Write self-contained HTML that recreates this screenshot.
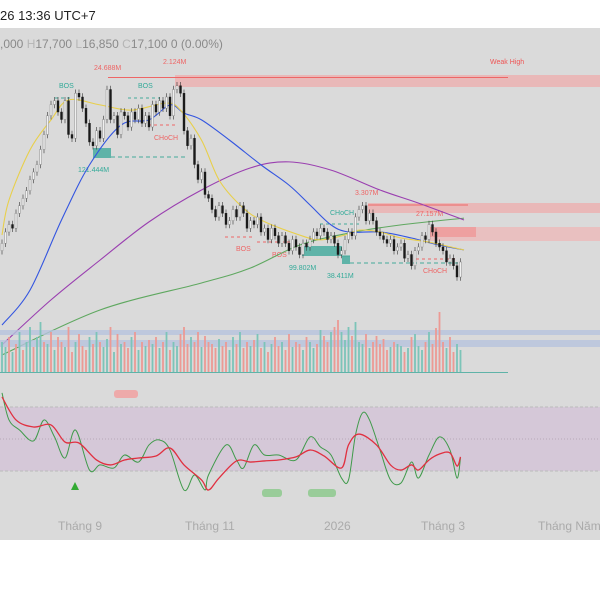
<!DOCTYPE html>
<html><head><meta charset="utf-8"><style>
html,body{margin:0;padding:0;background:#fff;width:600px;height:600px;overflow:hidden;font-family:"Liberation Sans",sans-serif}
svg{display:block}
</style></head><body>
<svg id="c" width="600" height="600">
<rect x="0" y="0" width="600" height="28" fill="#fff"/>
<text x="0" y="20" font-size="13" fill="#222">26 13:36 UTC+7</text>
<rect x="0" y="28" width="600" height="512" fill="#dadada"/>
<text x="0" y="48" font-size="12" fill="#8a8a8a">,000 <tspan fill="#b5b5b5">H</tspan>17,700 <tspan fill="#b5b5b5">L</tspan>16,850 <tspan fill="#b5b5b5">C</tspan>17,100 0 (0.00%)</text>
<g id="zones">
<rect x="175" y="75" width="425" height="12" fill="#e9b8b8"/>
<line x1="108" y1="77.5" x2="508" y2="77.5" stroke="#e66" stroke-width="1"/>
<text x="490" y="64" font-size="7" fill="#e55">Weak High</text>
<rect x="368" y="203" width="232" height="10" fill="#e9b8b8"/>
<rect x="430" y="227" width="170" height="14" fill="#e9c0c0"/>
<rect x="430" y="227" width="46" height="10" fill="#eea0a0"/>
<line x1="368" y1="205" x2="468" y2="205" stroke="#e66"/>
<rect x="93" y="148" width="18" height="10" fill="#5fb3a8"/>
<rect x="302" y="246" width="40" height="10" fill="#5fb3a8"/>
<rect x="342" y="256" width="8" height="8" fill="#5fb3a8"/>
<line x1="111" y1="157" x2="188" y2="157" stroke="#4a9" stroke-dasharray="4,3"/>
<line x1="350" y1="263" x2="458" y2="263" stroke="#4a9" stroke-dasharray="4,3"/>
<line x1="342" y1="256" x2="350" y2="256" stroke="#4a9"/>
<line x1="55" y1="98" x2="72" y2="98" stroke="#4a9" stroke-dasharray="3,3"/>
<line x1="128" y1="98" x2="160" y2="98" stroke="#4a9" stroke-dasharray="3,3"/>
<line x1="148" y1="125" x2="178" y2="125" stroke="#e66" stroke-dasharray="3,3"/>
<line x1="225" y1="237" x2="255" y2="237" stroke="#e66" stroke-dasharray="3,3"/>
<line x1="257" y1="242" x2="290" y2="242" stroke="#e66" stroke-dasharray="3,3"/>
<line x1="320" y1="224" x2="360" y2="224" stroke="#4a9" stroke-dasharray="3,3"/>
<line x1="416" y1="259" x2="455" y2="259" stroke="#e66" stroke-dasharray="3,3"/>
</g>
<g font-size="7">
<text x="94" y="70" fill="#e66">24.688M</text>
<text x="163" y="64" fill="#e66">2.124M</text>
<text x="59" y="88" fill="#3a9">BOS</text>
<text x="138" y="88" fill="#3a9">BOS</text>
<text x="154" y="140" fill="#e66">CHoCH</text>
<text x="78" y="172" fill="#3a9">121.444M</text>
<text x="355" y="195" fill="#e66">3.307M</text>
<text x="330" y="215" fill="#3a9">CHoCH</text>
<text x="416" y="216" fill="#e66">27.157M</text>
<text x="236" y="251" fill="#e66">BOS</text>
<text x="272" y="257" fill="#e66">BOS</text>
<text x="289" y="270" fill="#3a9">99.802M</text>
<text x="327" y="278" fill="#3a9">38.411M</text>
<text x="423" y="273" fill="#e66">CHoCH</text>
</g>
<g id="mas"></g>
<g id="candles"></g>
<rect x="0" y="330" width="600" height="5" fill="#b7c3dd" opacity="0.8"/>
<rect x="0" y="340" width="600" height="7" fill="#b7c3dd" opacity="0.8"/>
<g id="vol"></g>
<line x1="0" y1="372.5" x2="508" y2="372.5" stroke="#5fb3a8"/>
<g>
<rect x="0" y="407" width="600" height="64" fill="#d5c8d8"/>
<line x1="0" y1="407" x2="600" y2="407" stroke="#bbb" stroke-dasharray="3,2"/>
<line x1="0" y1="471" x2="600" y2="471" stroke="#bbb" stroke-dasharray="3,2"/>
<line x1="0" y1="439" x2="600" y2="439" stroke="#b8a8b8" stroke-dasharray="1,2"/>
<rect x="114" y="390" width="24" height="8" rx="3" fill="#eaa"/>
<rect x="262" y="489" width="20" height="8" rx="3" fill="#9c9"/>
<rect x="308" y="489" width="28" height="8" rx="3" fill="#9c9"/>
<polygon points="75,482 71,490 79,490" fill="#3a3"/>
</g>
<g id="osc"></g>
<g font-size="12" fill="#aaa">
<text x="58" y="530">Tháng 9</text>
<text x="185" y="530">Tháng 11</text>
<text x="324" y="530">2026</text>
<text x="421" y="530">Tháng 3</text>
<text x="538" y="530">Tháng Năm</text>
</g>
</svg>
<script>
const closes=[17.6,17.9,18.1,18.0,18.4,18.6,18.8,19.0,19.3,19.5,19.7,20.1,20.5,21.0,21.3,21.4,21.1,20.9,21.4,20.5,20.4,21.6,21.5,21.2,20.8,20.3,20.2,20.6,20.4,20.9,21.7,20.9,21.0,20.5,21.1,21.0,20.7,21.1,20.9,21.2,20.8,21.0,20.7,21.3,21.1,21.4,21.2,21.5,21.0,21.7,21.8,21.6,20.6,20.2,20.4,19.7,19.3,19.5,18.9,18.8,18.5,18.3,18.6,18.4,18.1,18.2,18.5,18.3,18.6,18.4,18.0,18.2,18.1,18.3,17.9,18.0,17.7,18.0,17.8,17.6,17.8,17.6,17.4,17.7,17.5,17.3,17.6,17.5,17.7,17.9,17.8,18.0,17.9,17.7,17.8,17.6,17.3,17.4,17.7,17.9,17.8,18.3,18.5,18.6,18.2,18.4,18.2,17.9,17.8,17.7,17.6,17.7,17.4,17.5,17.6,17.2,17.3,17.0,17.4,17.5,17.8,17.7,18.1,17.9,17.6,17.5,17.4,17.1,17.2,17.0,16.7,17.1];
const volumes=[30,25,35,20,28,40,22,30,45,25,35,50,30,28,40,22,35,30,25,45,20,30,38,26,22,35,28,40,30,25,33,45,20,38,28,30,24,35,40,22,30,26,32,28,35,24,30,40,22,30,26,38,45,28,35,30,40,25,36,30,28,24,33,26,30,22,35,28,40,24,30,26,32,38,24,30,20,28,35,26,30,22,38,25,30,28,22,35,30,24,28,42,36,30,40,45,52,40,32,45,36,50,30,28,38,24,30,36,28,33,22,25,30,28,26,20,24,35,38,26,22,30,40,28,44,60,30,24,35,20,28,22];
const volUp=[1,1,0,1,0,1,0,1,1,0,1,1,0,1,0,1,0,0,1,0,0,1,0,0,0,1,0,1,0,1,1,0,1,0,1,0,0,1,0,1,0,1,0,1,0,1,0,1,0,1,1,0,0,0,1,0,0,1,0,0,0,0,1,0,0,1,1,0,1,0,0,1,0,1,0,1,0,1,0,0,1,0,0,1,0,0,1,0,1,1,0,1,0,0,1,0,0,1,1,1,0,1,1,1,0,1,0,0,0,0,0,1,0,1,1,0,1,0,1,1,1,0,1,0,0,0,0,1,0,0,1,1];
const oscGreenIdx=[0,2,5,9,12,15,18,21,25,28,32,35,39,42,45,48,52,55,58,59,64,67,69,72,75,79,84,88,91,94,97,99,101,103,105,108,111,114,117,119,122,125,128,130,131];
const oscGreen=[78.8,61.9,55.6,48.8,61.9,51.3,38.1,55.6,30.6,33.8,31.9,40,35.6,46.3,49.4,43.1,18.1,27.5,18.1,27.5,46.3,36.9,31.9,46.3,40,40,36.9,51.3,45,40,25.6,24.4,52.5,66.3,61.9,43.1,24.4,22.5,35.6,25.6,40,51.3,43.1,25.6,38.1];
const oscRedIdx=[0,4,9,14,18,22,27,31,35,39,44,48,52,57,59,62,67,71,75,79,84,88,92,97,99,102,107,111,114,117,119,122,125,128,130,131];
const oscRed=[76.3,61.9,57.5,58.8,48.1,47.5,36.9,33.8,36.9,38.1,39.4,44.4,33.8,24.4,18.1,25.6,36.3,35.6,36.3,36.9,38.8,43.1,39.4,31.9,46.3,53.1,46.3,33.8,30.6,33.8,30.6,36.9,40.6,41.3,33.1,38.8];
const maYellowIdx=[0,2,8,14,19,28,37,47,51,57,62,68,74,85,91,98,102,108,114,122,132];
const maYellow=[17.82,18.75,20.09,20.89,21.42,21.29,21.15,21.34,21.15,20.35,19.29,18.62,18.22,17.82,17.69,17.82,17.95,17.9,17.74,17.63,17.42];
const maBlueIdx=[0,8,17,25,34,42,48,52,57,65,74,82,88,94,99,108,117,125,132];
const maBlue=[15.42,16.35,18.22,19.69,20.75,20.89,21.29,21.07,20.89,20.35,19.69,19.15,18.62,18.09,17.9,17.9,17.74,17.55,17.42];
const maPurpleIdx=[0,14,28,42,57,71,82,94,108,119,132];
const maPurple=[14.89,16.09,17.15,18.17,19.02,19.61,19.77,19.55,19.02,18.67,18.22];
const maGreenIdx=[0,28,57,71,85,99,114,132];
const maGreen=[14.62,15.82,16.54,16.94,17.55,17.87,18.09,18.27];

const NS='http://www.w3.org/2000/svg';
const xs=i=>2+i*3.5;
const yp=p=>262-(p-17.1)*37.5;
const yo=v=>439-(v-50)*1.6;
const yv=v=>372-v;
function mk(tag,attrs,parent){const e=document.createElementNS(NS,tag);for(const k in attrs)e.setAttribute(k,attrs[k]);parent.appendChild(e);return e;}

const cg=document.getElementById('candles');
closes.forEach((c,i)=>{
  const o=i?closes[i-1]:c-0.2;
  const hi=Math.max(o,c)+0.1, lo=Math.min(o,c)-0.1;
  const up=c>=o;
  const w=mk('line',{x1:xs(i),x2:xs(i),y1:yp(hi),y2:yp(lo),stroke:'#333','stroke-width':0.6},cg);
  
  
  const top=yp(Math.max(o,c)),bot=yp(Math.min(o,c));
  const b=mk('rect',{x:xs(i)-1,y:top,width:2,height:Math.max(1,bot-top),fill:up?'#f0f0f0':'#1a1a1a',stroke:up?'#777':'#1a1a1a','stroke-width':0.4},cg);
  
  
});

const vg=document.getElementById('vol');
volumes.forEach((v,i)=>{
  const r=mk('rect',{x:xs(i)-0.9,y:yv(v),width:1.8,height:v,fill:volUp[i]?'#7cc4b8':'#ec9a94'},vg);
  
  
});

function smoothPath(P){
  let d='M'+P[0][0]+','+P[0][1];
  for(let i=0;i<P.length-1;i++){
    const p0=P[i-1]||P[i],p1=P[i],p2=P[i+1],p3=P[i+2]||p2;
    const c1=[p1[0]+(p2[0]-p0[0])/6,p1[1]+(p2[1]-p0[1])/6];
    const c2=[p2[0]-(p3[0]-p1[0])/6,p2[1]-(p3[1]-p1[1])/6];
    d+=' C'+c1[0]+','+c1[1]+' '+c2[0]+','+c2[1]+' '+p2[0]+','+p2[1];
  }
  return d;
}
function line(idx,vals,yf,color,g,name,w){
  const P=idx.map((k,j)=>[xs(k),yf(vals[j])]);
  const p=mk('path',{d:smoothPath(P),fill:'none',stroke:color,'stroke-width':w||1.1,'stroke-linejoin':'round'},g);
  
  
}
const mg=document.getElementById('mas');
line(maGreenIdx,maGreen,yp,'#5fa860',mg,'ma-green');
line(maPurpleIdx,maPurple,yp,'#9a3fb0',mg,'ma-purple');
line(maBlueIdx,maBlue,yp,'#3355e0',mg,'ma-blue');
line(maYellowIdx,maYellow,yp,'#e8cf4a',mg,'ma-yellow');
const og=document.getElementById('osc');
line(oscGreenIdx,oscGreen,yo,'#3f9a4a',og,'osc-green-line',1);
line(oscRedIdx,oscRed,yo,'#e03040',og,'osc-red-line',1.3);
</script>
</body></html>
